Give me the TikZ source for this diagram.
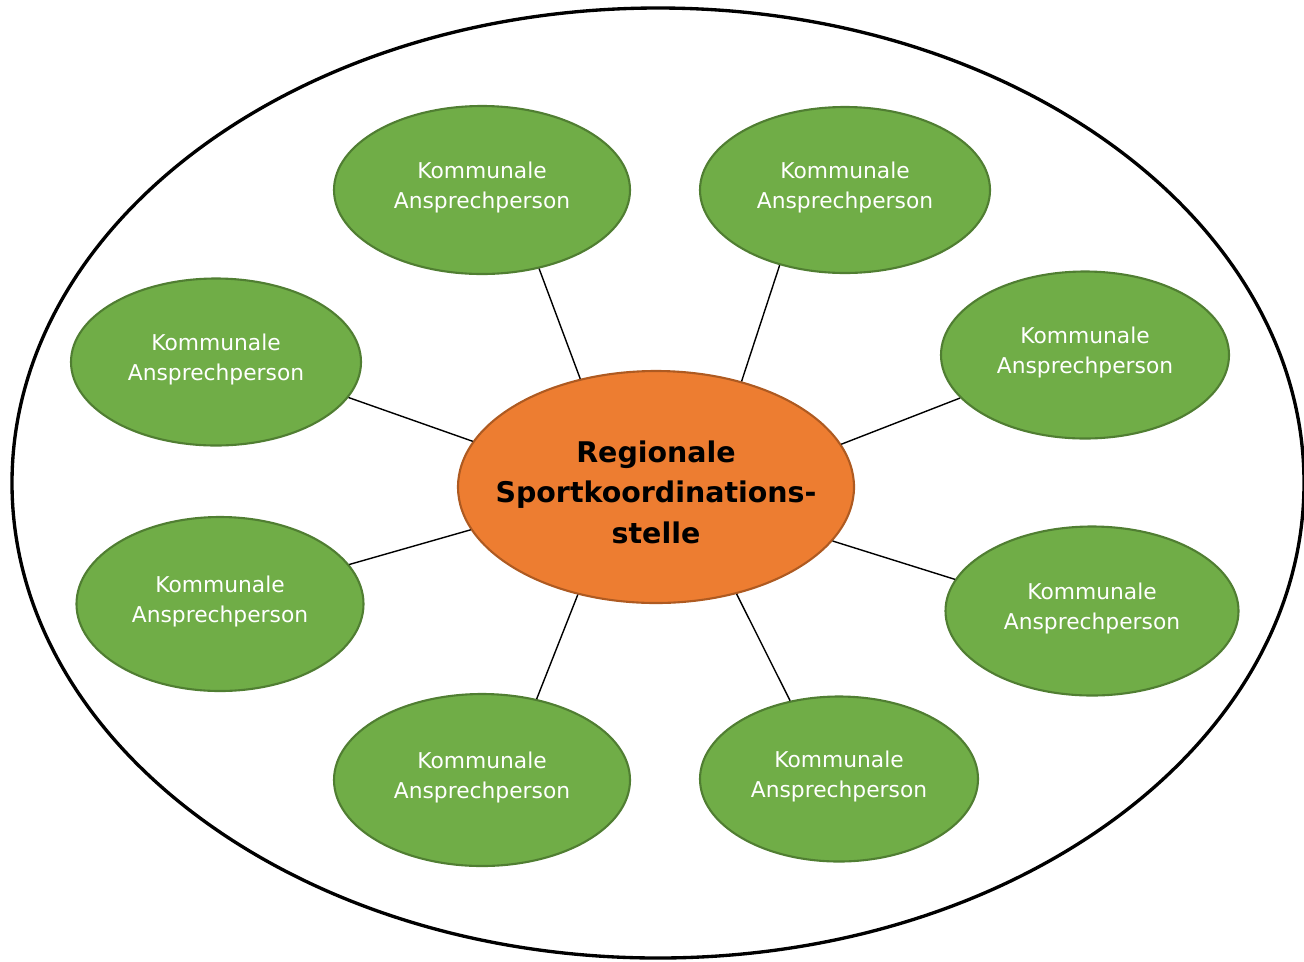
\documentclass[tikz,border=0pt]{standalone}
\usepackage{fontspec}
\setmainfont{DejaVu Sans}
\usepackage{tikz}
\usetikzlibrary{shapes}

\definecolor{kgreen}{HTML}{70AD47}
\definecolor{kgreenline}{HTML}{507E32}
\definecolor{korange}{HTML}{ED7D31}
\definecolor{korangeline}{HTML}{AE5A21}

\tikzset{
	kontakt/.style={ellipse,fill=kgreen,draw=kgreenline,line width=1.2pt,
		inner xsep=-30pt,inner ysep=0pt,align=center,text=white,
		font=\fontsize{12.4}{17}\selectfont,text depth=5pt},
	ksize/.style 2 args={minimum width=#1*0.02cm,minimum height=#2*0.02cm},
	zentrale/.style={ellipse,fill=korange,draw=korangeline,line width=1.2pt,
		inner xsep=-40pt,inner ysep=0pt,align=center,text=black,
		font=\fontsize{16.2}{23}\selectfont\bfseries,
		text height=64pt,text depth=0pt,ksize={396}{232}},
}

\begin{document}
\begin{tikzpicture}[x=0.02cm,y=-0.02cm]
		\useasboundingbox (0,0) rectangle (1304,961);
		% outer region
		\draw[line width=1.9pt] (658,483) ellipse [x radius=646,y radius=475];
		%
		\node[zentrale] (R) at (656,487) {Regionale\\Sportkoordinations-\\stelle};
		\node[kontakt,ksize={296}{168}] (K1) at (482,190) {Kommunale\\Ansprechperson};
		\node[kontakt,ksize={290}{166}] (K2) at (845,190) {Kommunale\\Ansprechperson};
		\node[kontakt,ksize={290}{167}] (K3) at (216,362) {Kommunale\\Ansprechperson};
		\node[kontakt,ksize={288}{167}] (K4) at (1085,355) {Kommunale\\Ansprechperson};
		\node[kontakt,ksize={287}{174}] (K5) at (220,604) {Kommunale\\Ansprechperson};
		\node[kontakt,ksize={293}{169}] (K6) at (1092,611) {Kommunale\\Ansprechperson};
		\node[kontakt,ksize={296}{172}] (K7) at (482,780) {Kommunale\\Ansprechperson};
		\node[kontakt,ksize={278}{165}] (K8) at (839,779) {Kommunale\\Ansprechperson};
		%
		\path[line width=0.8pt]
		% upper links
		(R.125) edge (K1.306)
		(R.51) edge (K2.229)
		(R.166) edge (K3.345)
		(R.13) edge (K4.199)
		% lower links
		(R.193) edge (K5.17)
		(R.343) edge (K6.167)
		(R.234) edge (K7.56)
		(R.307) edge (K8.122);
\end{tikzpicture}
\end{document}
